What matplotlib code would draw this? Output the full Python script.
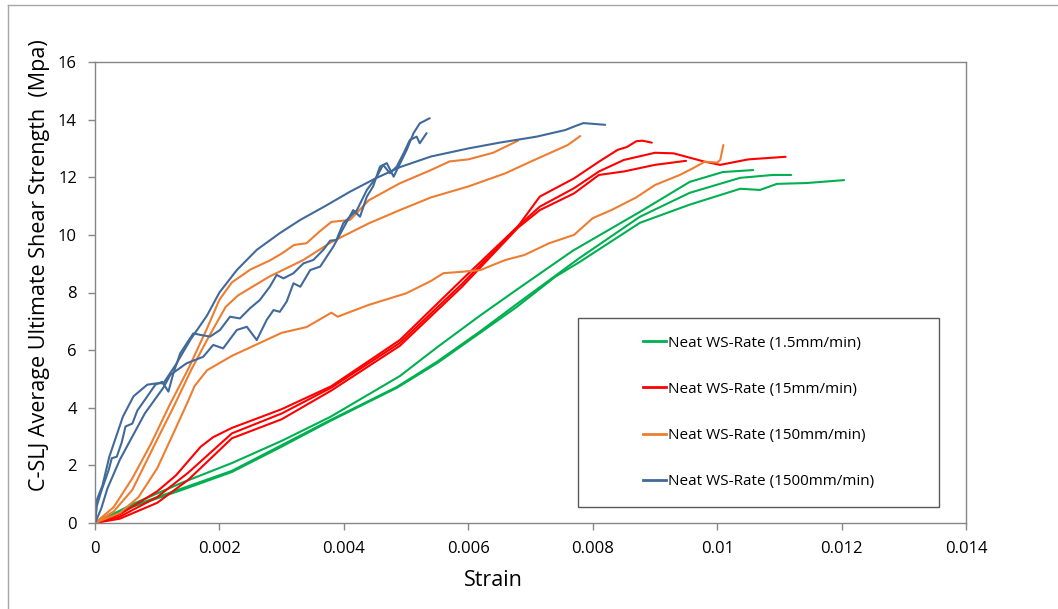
import matplotlib
matplotlib.use("Agg")
import matplotlib.pyplot as plt
from matplotlib.patches import Rectangle
from matplotlib.lines import Line2D

plt.rcParams['font.family'] = ['Open Sans', 'DejaVu Sans']

# ---- Neat WS, 1.5 mm/min ----
green_1_strain = [0, 0.00064, 0.0014, 0.0022, 0.003, 0.00378, 0.0049, 0.0055, 0.00619, 0.00678, 0.00768, 0.00876, 0.00956, 0.01009, 0.01058]
green_1_mpa = [0, 0.69, 1.4, 2.08, 2.85, 3.68, 5.1, 6.1, 7.2, 8.1, 9.45, 10.8, 11.84, 12.18, 12.25]
green_2_strain = [0, 0.00064, 0.0014, 0.0022, 0.003, 0.00378, 0.00485, 0.0055, 0.00619, 0.00678, 0.00779, 0.00876, 0.00956, 0.01037, 0.0109, 0.01119]
green_2_mpa = [0, 0.62, 1.2, 1.81, 2.7, 3.57, 4.72, 5.6, 6.65, 7.6, 9.2, 10.63, 11.46, 11.98, 12.08, 12.08]
green_3_strain = [0, 0.00064, 0.0014, 0.0022, 0.003, 0.00378, 0.00485, 0.0055, 0.00619, 0.00678, 0.0074, 0.00779, 0.00876, 0.00956, 0.01037, 0.01069, 0.01096, 0.01144, 0.01204]
green_3_mpa = [0, 0.59, 1.15, 1.77, 2.65, 3.54, 4.69, 5.55, 6.6, 7.5, 8.55, 9.06, 10.42, 11.05, 11.6, 11.56, 11.77, 11.8, 11.9]

# ---- Neat WS, 15 mm/min ----
red_1_strain = [0, 0.0004, 0.001, 0.0013, 0.0015, 0.0017, 0.0019, 0.0022, 0.003, 0.0038, 0.0049, 0.0059, 0.0068, 0.00715, 0.0077, 0.0081, 0.0084, 0.00855, 0.0087, 0.0088, 0.00895]
red_1_mpa = [0, 0.3, 1.1, 1.65, 2.15, 2.65, 2.98, 3.3, 3.95, 4.75, 6.35, 8.45, 10.3, 11.33, 11.96, 12.54, 12.95, 13.05, 13.25, 13.27, 13.2]
red_2_strain = [0, 0.0004, 0.001, 0.0015, 0.0022, 0.003, 0.0038, 0.0049, 0.0059, 0.0068, 0.00715, 0.0077, 0.0081, 0.0085, 0.009, 0.0093, 0.0098, 0.01005, 0.0105, 0.0111]
red_2_mpa = [0, 0.22, 0.9, 1.75, 3.11, 3.8, 4.7, 6.25, 8.3, 10.3, 10.98, 11.62, 12.2, 12.6, 12.85, 12.83, 12.54, 12.43, 12.62, 12.71]
red_3_strain = [0, 0.0004, 0.001, 0.0015, 0.0022, 0.003, 0.0038, 0.0049, 0.0059, 0.0068, 0.00715, 0.0077, 0.0081, 0.0085, 0.009, 0.0095]
red_3_mpa = [0, 0.15, 0.7, 1.5, 2.94, 3.6, 4.6, 6.15, 8.2, 10.25, 10.86, 11.44, 12.08, 12.2, 12.43, 12.57]

# ---- Neat WS, 150 mm/min ----
orange_1_strain = [0, 0.0003, 0.0006, 0.0009, 0.0012, 0.0015, 0.0018, 0.002, 0.0022, 0.0025, 0.0028, 0.003, 0.0032, 0.0034, 0.0036, 0.0038, 0.0041, 0.0044, 0.0049, 0.0054, 0.0057, 0.006, 0.0064, 0.0068]
orange_1_mpa = [0, 0.55, 1.55, 2.75, 4.1, 5.35, 6.75, 7.75, 8.35, 8.8, 9.1, 9.35, 9.65, 9.71, 10.1, 10.45, 10.52, 11.2, 11.79, 12.25, 12.55, 12.62, 12.85, 13.27]
orange_2_strain = [0, 0.0003, 0.0006, 0.001, 0.00127, 0.00155, 0.0018, 0.0021, 0.0023, 0.0028, 0.00335, 0.0038, 0.0044, 0.0049, 0.0054, 0.006, 0.0066, 0.007, 0.0073, 0.0076, 0.0078]
orange_2_mpa = [0, 0.4, 1.15, 2.9, 4.06, 5.33, 6.35, 7.5, 7.9, 8.55, 9.13, 9.75, 10.4, 10.86, 11.3, 11.68, 12.14, 12.54, 12.83, 13.12, 13.43]
orange_3_strain = [0, 0.0004, 0.0007, 0.001, 0.0013, 0.0015, 0.0016, 0.0018, 0.0022, 0.0025, 0.003, 0.0034, 0.0038, 0.0039, 0.0044, 0.005, 0.0054, 0.0056, 0.0059, 0.0062, 0.0064, 0.0066, 0.0069, 0.0073, 0.0077, 0.008, 0.0083, 0.0087, 0.009, 0.0094, 0.0096, 0.0098, 0.01, 0.01005, 0.0101]
orange_3_mpa = [0, 0.35, 0.9, 1.9, 3.3, 4.25, 4.75, 5.3, 5.8, 6.1, 6.6, 6.8, 7.3, 7.16, 7.57, 7.97, 8.4, 8.67, 8.72, 8.78, 8.96, 9.13, 9.3, 9.71, 10.0, 10.58, 10.86, 11.3, 11.73, 12.08, 12.3, 12.54, 12.51, 12.6, 13.12]

# ---- Neat WS, 1500 mm/min ----
blue_1_strain = [0, 0.00002, 0.00012, 0.00023, 0.00045, 0.00062, 0.00084, 0.001, 0.0011, 0.0013, 0.00153, 0.0018, 0.002, 0.00228, 0.0026, 0.00297, 0.0033, 0.0037, 0.0041, 0.0045, 0.0049, 0.0054, 0.006, 0.0065, 0.0071, 0.00756, 0.0077, 0.00785, 0.0082]
blue_1_mpa = [0, 0.75, 1.3, 2.3, 3.7, 4.4, 4.8, 4.85, 4.85, 5.5, 6.35, 7.2, 8.0, 8.78, 9.48, 10.06, 10.52, 11.0, 11.5, 11.95, 12.35, 12.72, 13.0, 13.2, 13.41, 13.64, 13.76, 13.88, 13.82]
blue_2_strain = [0, 0.00003, 0.0001, 0.00022, 0.00027, 0.00035, 0.00043, 0.00049, 0.0006, 0.00068, 0.00081, 0.00097, 0.00108, 0.00118, 0.00126, 0.00137, 0.00158, 0.00169, 0.00185, 0.00201, 0.00217, 0.00233, 0.00249, 0.00265, 0.00281, 0.00292, 0.00303, 0.00319, 0.00335, 0.00351, 0.00367, 0.00378, 0.00388, 0.00399, 0.0041, 0.00421, 0.00437, 0.00453, 0.00463, 0.00474, 0.00485, 0.00496, 0.00506, 0.00517, 0.00522, 0.00533]
blue_2_mpa = [0, 0.6, 1.1, 1.84, 2.25, 2.3, 2.8, 3.35, 3.45, 3.9, 4.3, 4.8, 4.9, 4.56, 5.2, 5.89, 6.58, 6.53, 6.47, 6.7, 7.16, 7.1, 7.45, 7.74, 8.2, 8.61, 8.49, 8.67, 9.01, 9.13, 9.48, 9.8, 9.82, 10.4, 10.63, 10.86, 11.56, 12.02, 12.43, 12.14, 12.37, 12.83, 13.29, 13.41, 13.18, 13.53]
blue_3_strain = [0, 0.0001, 0.0002, 0.0003, 0.0004, 0.0005, 0.0006, 0.0008, 0.001, 0.0011, 0.00121, 0.00147, 0.00174, 0.0019, 0.00206, 0.00228, 0.00244, 0.0026, 0.00276, 0.00287, 0.00297, 0.00308, 0.00319, 0.0033, 0.00346, 0.00362, 0.00383, 0.00415, 0.00426, 0.00437, 0.00447, 0.00458, 0.00469, 0.0048, 0.00501, 0.00512, 0.00522, 0.00538]
blue_3_mpa = [0, 0.5, 1.2, 1.7, 2.2, 2.6, 3.0, 3.8, 4.4, 4.7, 5.14, 5.54, 5.77, 6.18, 6.06, 6.7, 6.81, 6.35, 7.05, 7.39, 7.33, 7.68, 8.32, 8.2, 8.78, 8.9, 9.59, 10.86, 10.63, 11.33, 11.68, 12.37, 12.49, 12.02, 12.95, 13.53, 13.87, 14.05]

series_labels = ["Neat WS-Rate (1.5mm/min)", "Neat WS-Rate (15mm/min)",
                 "Neat WS-Rate (150mm/min)", "Neat WS-Rate (1500mm/min)"]
series_colors = ["#00B050", "#FF0000", "#ED7D31", "#41699A"]

x_ticks = [0, 0.002, 0.004, 0.006, 0.008, 0.01, 0.012, 0.014]
x_tick_labels = ["0", "0.002", "0.004", "0.006", "0.008", "0.01", "0.012", "0.014"]
y_ticks = [0, 2, 4, 6, 8, 10, 12, 14, 16]

groups = [
    [(green_1_strain, green_1_mpa), (green_2_strain, green_2_mpa), (green_3_strain, green_3_mpa)],
    [(red_1_strain, red_1_mpa), (red_2_strain, red_2_mpa), (red_3_strain, red_3_mpa)],
    [(orange_1_strain, orange_1_mpa), (orange_2_strain, orange_2_mpa), (orange_3_strain, orange_3_mpa)],
    [(blue_1_strain, blue_1_mpa), (blue_2_strain, blue_2_mpa), (blue_3_strain, blue_3_mpa)],
]

fig = plt.figure(figsize=(10.58, 6.09), dpi=100)
ax = fig.add_axes([95 / 1058, 1 - 523 / 609, (966 - 95) / 1058, (523 - 62) / 609])

for runs, color in zip(groups, series_colors):
    for xs, ys in runs:
        ax.plot(xs, ys, color=color, lw=1.5, solid_joinstyle='round', solid_capstyle='round')

ax.set_xlim(0, 0.014)
ax.set_ylim(0, 16)
ax.set_xticks(x_ticks)
ax.set_xticklabels(x_tick_labels)
ax.set_yticks(y_ticks)
ax.tick_params(axis='both', direction='out', length=5, width=1, color='#868686',
               labelsize=12, labelcolor='#000000', pad=8)
for side in ['top', 'right', 'left', 'bottom']:
    ax.spines[side].set_color('#868686')
    ax.spines[side].set_linewidth(1)

ax.set_xlabel("Strain", fontsize=15.5)
ax.set_ylabel("C-SLJ Average Ultimate Shear Strength  (Mpa)", fontsize=15.5)
ax.xaxis.set_label_coords((493 - 95) / 871, (523 - 580) / 461)
ax.yaxis.set_label_coords((40 - 95) / 871, (523 - 265) / 461)
ax.xaxis.label.set_va('center')
ax.yaxis.label.set_va('center')

# legend with its own framed box
box = Rectangle((578 / 1058, 1 - 507 / 609), (939 - 578) / 1058, (507 - 318) / 609,
                transform=fig.transFigure, fill=False, edgecolor='#595959', lw=1, zorder=5)
fig.add_artist(box)
handles = [Line2D([0], [0], color=c, lw=2) for c in series_colors]
fig.legend(handles, series_labels, loc='center',
           bbox_to_anchor=((578 + 939) / 2 / 1058, 1 - (318 + 507) / 2 / 609),
           frameon=False, fontsize=11, labelspacing=2.05, handlelength=1.5,
           handletextpad=0.15)

# outer chart-area border
fig.add_artist(Line2D([8 / 1058, 8 / 1058], [0, 1 - 5 / 609], transform=fig.transFigure,
                      color='#A6A6A6', lw=1))
fig.add_artist(Line2D([8 / 1058, 1], [1 - 5 / 609, 1 - 5 / 609], transform=fig.transFigure,
                      color='#A6A6A6', lw=1))

fig.savefig("out.png", dpi=100)
